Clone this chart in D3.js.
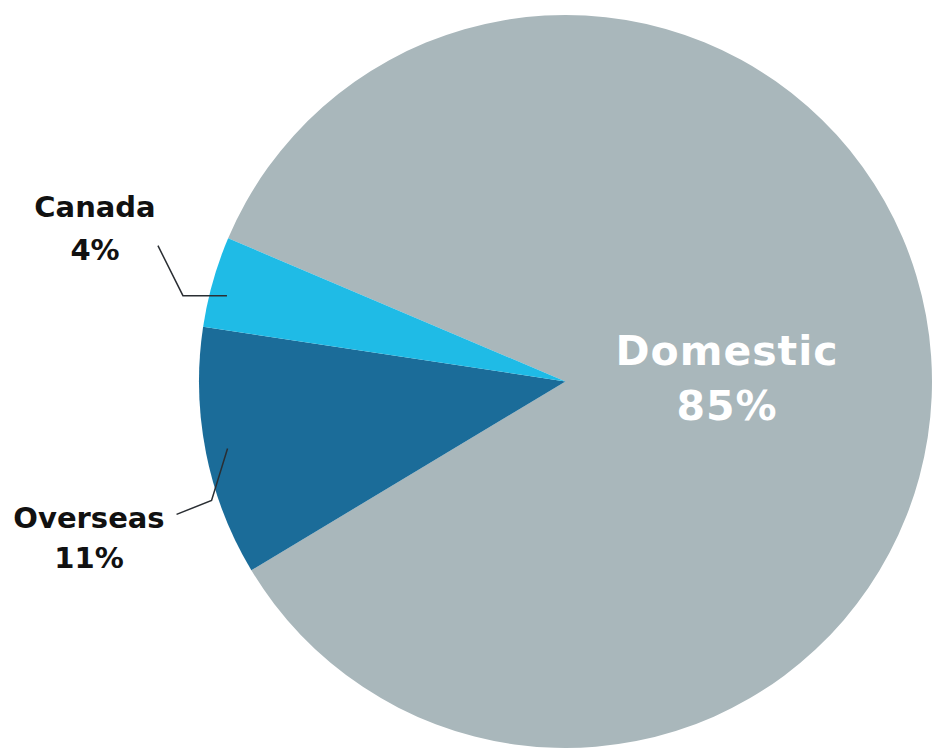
<!DOCTYPE html>
<html>
<head>
<meta charset="utf-8">
<script src="https://d3js.org/d3.v7.min.js"></script>
<style>
  body { margin: 0; background: #fff; }
  svg text { font-family: "DejaVu Sans", Lato, sans-serif; font-weight: bold; }
</style>
</head>
<body>
<div id="chart"></div>
<script>
// pie of where visitors come from
var categories = ["Domestic", "Overseas", "Canada"];
var shares = [85, 11, 4];
var labels = ["85%", "11%", "4%"];
var colors = ["#a9b7bb", "#1b6c99", "#1fbbe6"];

var width = 935, height = 752;
var cx = 565.5, cy = 381.5, radius = 366.5;

var svg = d3.select("#chart").append("svg")
    .attr("width", width)
    .attr("height", height);

var pie = d3.pie()
    .sort(null)
    .startAngle(293 * Math.PI / 180)
    .endAngle(293 * Math.PI / 180 + 2 * Math.PI);

var arc = d3.arc()
    .innerRadius(0)
    .outerRadius(radius);

var arcs = pie(shares);

var g = svg.append("g")
    .attr("transform", "translate(" + cx + "," + cy + ")");

g.selectAll("path.slice")
    .data(arcs)
  .enter().append("path")
    .attr("class", "slice")
    .attr("d", arc)
    .style("fill", function(d, i) { return colors[i]; });

// point on the pie at the middle of a slice
function midPoint(d, r) {
  var a = (d.startAngle + d.endAngle) / 2;
  return [r * Math.sin(a), -r * Math.cos(a)];
}

// Domestic label, inside the slice
g.append("text")
    .attr("x", 727 - cx)
    .attr("y", 365 - cy)
    .attr("text-anchor", "middle")
    .style("fill", "#fff")
    .style("font-size", "41px")
    .style("letter-spacing", "1px")
    .text(categories[0]);
g.append("text")
    .attr("x", 727 - cx)
    .attr("y", 420 - cy)
    .attr("text-anchor", "middle")
    .style("fill", "#fff")
    .style("font-size", "41px")
    .style("letter-spacing", "1px")
    .text(labels[0]);

// Canada leader + label
var pc = midPoint(arcs[2], radius * 0.96);
g.append("path")
    .attr("d", d3.line()([[pc[0], pc[1] + 10], [pc[0] - 44, pc[1] + 10], [pc[0] - 69, pc[1] - 40]]))
    .style("fill", "none")
    .style("stroke", "#2a2e33")
    .style("stroke-width", 1.5);

// Overseas leader + label
var po = midPoint(arcs[1], radius * 0.94);
g.append("path")
    .attr("d", d3.line()([po, [po[0] - 16, po[1] + 52], [po[0] - 51, po[1] + 66]]))
    .style("fill", "none")
    .style("stroke", "#2a2e33")
    .style("stroke-width", 1.5);

var outside = [
  {i: 2, x: 95, y1: 217, y2: 260},
  {i: 1, x: 89, y1: 528, y2: 568}
];
outside.forEach(function(o) {
  svg.append("text")
      .attr("x", o.x).attr("y", o.y1)
      .attr("text-anchor", "middle")
      .style("fill", "#111")
      .style("font-size", "29px")
      .text(categories[o.i]);
  svg.append("text")
      .attr("x", o.x).attr("y", o.y2)
      .attr("text-anchor", "middle")
      .style("fill", "#111")
      .style("font-size", "29px")
      .text(labels[o.i]);
});
</script>
</body>
</html>
